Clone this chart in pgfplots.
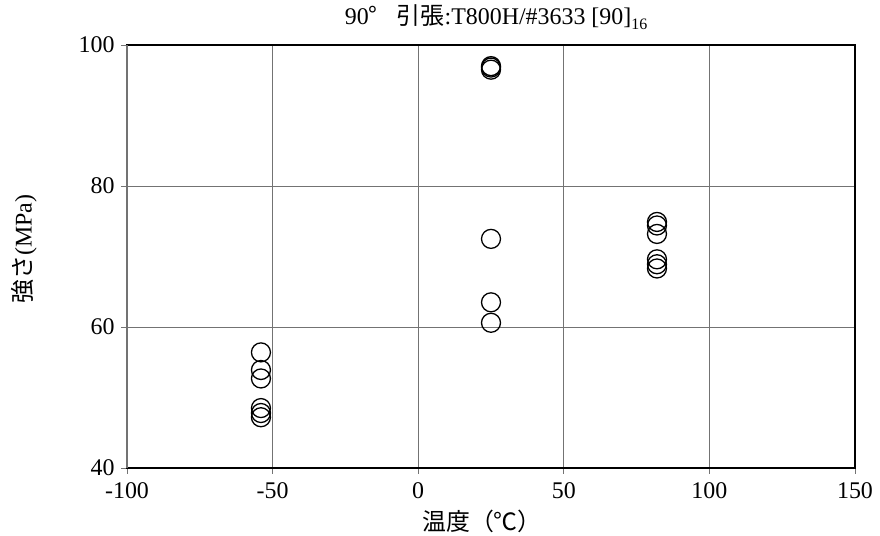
\documentclass[border=0pt]{standalone}
\usepackage{fontspec}
\setmainfont{Liberation Serif}
\newfontfamily\cjk{Noto Sans CJK JP}
\usepackage{pgfplots}
\pgfplotsset{compat=1.18}
\begin{document}
\begin{tikzpicture}
\begin{axis}[
  name=ax,
  at={(0,0)}, anchor=south west,
  scale only axis, width=728bp, height=423bp,
  xmin=-100, xmax=150, ymin=40, ymax=100,
  xtick={-100,-50,0,50,100,150}, ytick={40,60,80,100},
  grid=major, major grid style={draw=black!55, line width=0.9bp},
  axis line style={black, line width=1.6bp},
  tick style={black!55, line width=0.9bp},
  tick align=outside, major tick length=6bp,
  xtick pos=bottom, ytick pos=left,
  font=\fontsize{24}{28}\selectfont,
  /pgf/number format/assume math mode=true,
  ticklabel style={font=\fontsize{24}{28}\selectfont},
  xticklabel style={yshift=-5bp},
  yticklabel style={xshift=-3bp},
  title={90{\cjk °\hspace{0.8em}引張}:T800H/\#3633 [90]\raisebox{-5bp}{\fontsize{16}{16}\selectfont 16}},
  title style={at={(axis description cs:0.507,1)}, anchor=center, yshift=22bp},
  xlabel={{\cjk 温度（℃）}},
  xlabel style={at={(axis description cs:0.4876,0)}, anchor=center, yshift=-53bp},
  ylabel={{\cjk 強さ}(MPa)},
  ylabel style={at={(axis description cs:-0.1415,0.518)}, anchor=center},
  clip=false,
]
\addplot[only marks, mark=o, mark size=9.5bp, mark options={line width=1.3bp, draw=black}] coordinates {
  (-54,56.4) (-54,53.9) (-54,52.7) (-54,48.5) (-54,47.8) (-54,47.2)
  (25,97.0) (25,96.8) (25,96.5) (25,72.5) (25,63.5) (25,60.6)
  (82,74.9) (82,74.4) (82,73.2) (82,69.6) (82,68.9) (82,68.3)
};
\end{axis}
\draw[black!55, line width=1.6bp] (ax.south west) -- (ax.north west);
\path[use as bounding box] (-127bp,-67bp) rectangle (753bp,468bp);
\end{tikzpicture}
\end{document}
